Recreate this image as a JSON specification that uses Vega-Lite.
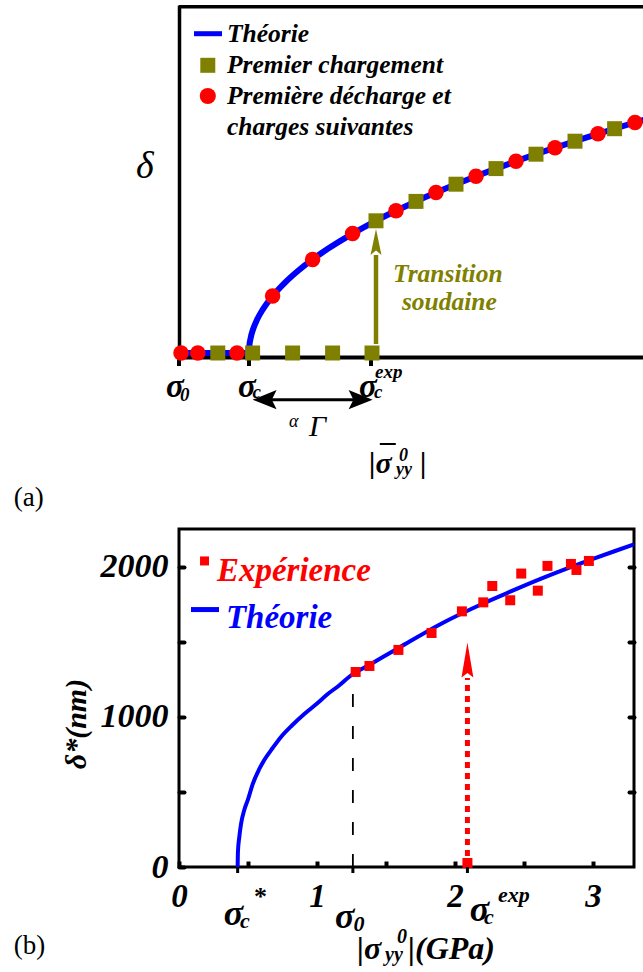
{
  "$schema": "https://vega.github.io/schema/vega-lite/v6.json",
  "autosize": {"type": "pad"},
  "padding": {"left": 12, "top": 5, "right": 0, "bottom": 0},
  "background": "white",
  "config": {"view": {"stroke": null}, "font": "Liberation Serif"},
  "bounds": "flush",
  "spacing": 172,
  "vconcat": [
    {
      "width": 465,
      "height": 352,
      "layer": [
        {
          "data": {"values": [
            {"s": -1.75, "d": 0}, {"s": 0, "d": 0}, {"s": 0.01, "d": 0.74}, {"s": 0.04, "d": 1.48},
            {"s": 0.1, "d": 2.35}, {"s": 0.2, "d": 3.32}, {"s": 0.35, "d": 4.39}, {"s": 0.59, "d": 5.7},
            {"s": 0.9, "d": 7.04}, {"s": 1.25, "d": 8.3}, {"s": 1.59, "d": 9.36}, {"s": 2.0, "d": 10.49},
            {"s": 2.59, "d": 11.94}, {"s": 3.175, "d": 13.22}, {"s": 3.675, "d": 14.22}, {"s": 4.175, "d": 15.16},
            {"s": 4.675, "d": 16.04}, {"s": 5.175, "d": 16.88}, {"s": 5.675, "d": 17.68}, {"s": 6.175, "d": 18.44},
            {"s": 6.675, "d": 19.17}, {"s": 7.175, "d": 19.88}, {"s": 7.65, "d": 20.52}, {"s": 8.15, "d": 21.18},
            {"s": 8.725, "d": 21.92}, {"s": 9.14, "d": 22.43}, {"s": 9.65, "d": 23.05}, {"s": 9.875, "d": 23.32}
          ]},
          "mark": {"type": "line", "color": "#0000ff", "strokeWidth": 6, "interpolate": "monotone"},
          "encoding": {
            "x": {"field": "s", "type": "quantitative", "scale": {"domain": [-1.75, 9.875], "nice": false, "zero": false},
                  "axis": {"title": null, "labels": false, "ticks": false, "grid": false, "domainColor": "black", "domainWidth": 4}},
            "y": {"field": "d", "type": "quantitative", "scale": {"domain": [-0.4, 34.8], "nice": false, "zero": false},
                  "axis": {"title": null, "labels": false, "ticks": false, "grid": false, "domainColor": "black", "domainWidth": 3.5}}
          }
        },
        {
          "data": {"values": [{"s": -1.75, "s2": 9.875, "d": 34.45, "d2": 34.8}]},
          "mark": {"type": "rect", "color": "black", "opacity": 1},
          "encoding": {"x": {"field": "s", "type": "quantitative"}, "x2": {"field": "s2"}, "y": {"field": "d", "type": "quantitative"}, "y2": {"field": "d2"}}
        },
        {
          "data": {"values": [{"s": -1.75}, {"s": 0}, {"s": 3.05}]},
          "mark": {"type": "rule", "color": "black", "strokeWidth": 4},
          "encoding": {"x": {"field": "s", "type": "quantitative"}, "y": {"datum": -0.4}, "y2": {"datum": -1.3}}
        },
        {
          "data": {"values": [{"s": 3.175, "d": 0.9, "d2": 9.8}]},
          "mark": {"type": "rule", "color": "#808000", "strokeWidth": 4.5},
          "encoding": {"x": {"field": "s", "type": "quantitative"}, "y": {"field": "d", "type": "quantitative"}, "y2": {"field": "d2"}}
        },
        {
          "data": {"values": [{"s": 3.175, "d": 11.1}]},
          "mark": {"type": "point", "shape": "M0,-1L0.42,1L0,0.65L-0.42,1Z", "size": 676, "filled": true, "color": "#808000", "opacity": 1},
          "encoding": {"x": {"field": "s", "type": "quantitative"}, "y": {"field": "d", "type": "quantitative"}}
        },
        {
          "data": {"values": [
            {"s": -0.78, "d": 0}, {"s": 0.09, "d": 0}, {"s": 1.09, "d": 0}, {"s": 2.09, "d": 0}, {"s": 3.075, "d": 0},
            {"s": 3.175, "d": 13.22}, {"s": 4.175, "d": 15.16}, {"s": 5.175, "d": 16.88}, {"s": 6.175, "d": 18.44},
            {"s": 7.175, "d": 19.88}, {"s": 8.15, "d": 21.18}, {"s": 9.14, "d": 22.43}
          ]},
          "mark": {"type": "point", "shape": "square", "size": 225, "filled": true, "color": "#808000", "opacity": 1},
          "encoding": {"x": {"field": "s", "type": "quantitative"}, "y": {"field": "d", "type": "quantitative"}}
        },
        {
          "data": {"values": [
            {"s": -1.7, "d": 0}, {"s": -1.28, "d": 0}, {"s": -0.3, "d": 0},
            {"s": 0.59, "d": 5.7}, {"s": 1.59, "d": 9.36}, {"s": 2.59, "d": 11.94}, {"s": 3.675, "d": 14.22},
            {"s": 4.675, "d": 16.04}, {"s": 5.675, "d": 17.68}, {"s": 6.675, "d": 19.17}, {"s": 7.65, "d": 20.52},
            {"s": 8.725, "d": 21.92}, {"s": 9.65, "d": 23.05}
          ]},
          "mark": {"type": "point", "shape": "circle", "size": 240, "filled": true, "color": "#ff0000", "opacity": 1},
          "encoding": {"x": {"field": "s", "type": "quantitative"}, "y": {"field": "d", "type": "quantitative"}}
        },
        {
          "data": {"values": [{"s": -1.375, "s2": -0.675, "d": 31.93}]},
          "mark": {"type": "rule", "color": "#0000ff", "strokeWidth": 5},
          "encoding": {"x": {"field": "s", "type": "quantitative"}, "x2": {"field": "s2"}, "y": {"field": "d", "type": "quantitative"}}
        },
        {
          "data": {"values": [{"s": -1.03, "d": 28.77}]},
          "mark": {"type": "point", "shape": "square", "size": 225, "filled": true, "color": "#808000", "opacity": 1},
          "encoding": {"x": {"field": "s", "type": "quantitative"}, "y": {"field": "d", "type": "quantitative"}}
        },
        {
          "data": {"values": [{"s": -1.03, "d": 25.7}]},
          "mark": {"type": "point", "shape": "circle", "size": 260, "filled": true, "color": "#ff0000", "opacity": 1},
          "encoding": {"x": {"field": "s", "type": "quantitative"}, "y": {"field": "d", "type": "quantitative"}}
        },
        {
          "data": {"values": [
            {"s": -0.55, "d": 31.93, "t": "Théorie"},
            {"s": -0.55, "d": 28.77, "t": "Premier chargement"},
            {"s": -0.55, "d": 25.7, "t": "Première décharge et"},
            {"s": -0.55, "d": 22.6, "t": "charges suivantes"}
          ]},
          "mark": {"type": "text", "align": "left", "baseline": "middle", "font": "Liberation Serif", "fontWeight": "bold", "fontStyle": "italic", "fontSize": 25.5, "color": "black"},
          "encoding": {"x": {"field": "s", "type": "quantitative"}, "y": {"field": "d", "type": "quantitative"}, "text": {"field": "t"}}
        },
        {
          "data": {"values": [
            {"s": 4.97, "d": 7.93, "t": "Transition"},
            {"s": 5.01, "d": 5.1, "t": "soudaine"}
          ]},
          "mark": {"type": "text", "align": "center", "baseline": "middle", "font": "Liberation Serif", "fontWeight": "bold", "fontStyle": "italic", "fontSize": 25.5, "color": "#808000"},
          "encoding": {"x": {"field": "s", "type": "quantitative"}, "y": {"field": "d", "type": "quantitative"}, "text": {"field": "t"}}
        },
        {
          "data": {"values": [
            {"s": -2.075, "d": -3.4, "t": "σ"}, {"s": -0.275, "d": -3.4, "t": "σ"}, {"s": 2.75, "d": -3.4, "t": "σ"}
          ]},
          "mark": {"type": "text", "align": "left", "font": "Liberation Serif", "fontWeight": "bold", "fontStyle": "italic", "fontSize": 33, "color": "black"},
          "encoding": {"x": {"field": "s", "type": "quantitative"}, "y": {"field": "d", "type": "quantitative"}, "text": {"field": "t"}}
        },
        {
          "data": {"values": [
            {"s": -1.725, "d": -4.2, "t": "0"}, {"s": 0.09, "d": -3.9, "t": "c"}, {"s": 3.125, "d": -3.9, "t": "c"}, {"s": 3.15, "d": -1.9, "t": "exp"}
          ]},
          "mark": {"type": "text", "align": "left", "font": "Liberation Serif", "fontWeight": "bold", "fontStyle": "italic", "fontSize": 19, "color": "black"},
          "encoding": {"x": {"field": "s", "type": "quantitative"}, "y": {"field": "d", "type": "quantitative"}, "text": {"field": "t"}}
        },
        {
          "data": {"values": [{"s": 0.39, "s2": 2.79, "d": -4.67}]},
          "mark": {"type": "rule", "color": "black", "strokeWidth": 3},
          "encoding": {"x": {"field": "s", "type": "quantitative"}, "x2": {"field": "s2"}, "y": {"field": "d", "type": "quantitative"}}
        },
        {
          "data": {"values": [{"s": 0.39, "d": -4.67}]},
          "mark": {"type": "point", "shape": "M-1,0L1,-0.8L0.6,0L1,0.8Z", "size": 576, "filled": true, "color": "black", "opacity": 1},
          "encoding": {"x": {"field": "s", "type": "quantitative"}, "y": {"field": "d", "type": "quantitative"}}
        },
        {
          "data": {"values": [{"s": 2.79, "d": -4.67}]},
          "mark": {"type": "point", "shape": "M1,0L-1,-0.8L-0.6,0L-1,0.8Z", "size": 576, "filled": true, "color": "black", "opacity": 1},
          "encoding": {"x": {"field": "s", "type": "quantitative"}, "y": {"field": "d", "type": "quantitative"}}
        },
        {
          "data": {"values": [{"s": 1.0, "d": -6.9, "t": "α"}]},
          "mark": {"type": "text", "align": "left", "font": "Liberation Serif", "fontStyle": "italic", "fontSize": 18, "color": "black"},
          "encoding": {"x": {"field": "s", "type": "quantitative"}, "y": {"field": "d", "type": "quantitative"}, "text": {"field": "t"}}
        },
        {
          "data": {"values": [{"s": 1.5, "d": -7.4, "t": "Γ"}]},
          "mark": {"type": "text", "align": "left", "font": "Liberation Serif", "fontStyle": "italic", "fontSize": 30, "color": "black"},
          "encoding": {"x": {"field": "s", "type": "quantitative"}, "y": {"field": "d", "type": "quantitative"}, "text": {"field": "t"}}
        },
        {
          "data": {"values": [{"s": 3.0, "d": -11.1, "t": "|σ"}, {"s": 4.275, "d": -11.1, "t": "|"}]},
          "mark": {"type": "text", "align": "left", "font": "Liberation Serif", "fontWeight": "bold", "fontStyle": "italic", "fontSize": 30, "color": "black"},
          "encoding": {"x": {"field": "s", "type": "quantitative"}, "y": {"field": "d", "type": "quantitative"}, "text": {"field": "t"}}
        },
        {
          "data": {"values": [{"s": 3.27, "s2": 3.67, "d": -9.1}]},
          "mark": {"type": "rule", "color": "black", "strokeWidth": 2},
          "encoding": {"x": {"field": "s", "type": "quantitative"}, "x2": {"field": "s2"}, "y": {"field": "d", "type": "quantitative"}}
        },
        {
          "data": {"values": [{"s": 3.675, "d": -11.7, "t": "yy"}, {"s": 3.75, "d": -10.3, "t": "0"}]},
          "mark": {"type": "text", "align": "left", "font": "Liberation Serif", "fontWeight": "bold", "fontStyle": "italic", "fontSize": 18, "color": "black"},
          "encoding": {"x": {"field": "s", "type": "quantitative"}, "y": {"field": "d", "type": "quantitative"}, "text": {"field": "t"}}
        },
        {
          "data": {"values": [{"s": -2.825, "d": 18.6, "t": "δ"}]},
          "mark": {"type": "text", "align": "left", "font": "Liberation Serif", "fontStyle": "italic", "fontSize": 38, "color": "black"},
          "encoding": {"x": {"field": "s", "type": "quantitative"}, "y": {"field": "d", "type": "quantitative"}, "text": {"field": "t"}}
        },
        {
          "data": {"values": [{"s": -5.88, "d": -14.5, "t": "(a)"}]},
          "mark": {"type": "text", "align": "left", "font": "Liberation Serif", "fontSize": 27, "color": "black"},
          "encoding": {"x": {"field": "s", "type": "quantitative"}, "y": {"field": "d", "type": "quantitative"}, "text": {"field": "t"}}
        }
      ]
    },
    {
      "width": 455,
      "height": 338,
      "view": {"stroke": "black", "strokeWidth": 3},
      "resolve": {"axis": {"y": "independent"}},
      "layer": [
        {
          "data": {"values": [
            {"s": 0.425, "d": 0}, {"s": 0.427, "d": 100}, {"s": 0.437, "d": 200}, {"s": 0.45, "d": 290},
            {"s": 0.473, "d": 380}, {"s": 0.5, "d": 450}, {"s": 0.534, "d": 553}, {"s": 0.58, "d": 650},
            {"s": 0.618, "d": 713}, {"s": 0.68, "d": 795}, {"s": 0.739, "d": 867}, {"s": 0.82, "d": 945},
            {"s": 0.908, "d": 1020}, {"s": 1.0, "d": 1090}, {"s": 1.078, "d": 1153}, {"s": 1.16, "d": 1210},
            {"s": 1.241, "d": 1273}, {"s": 1.391, "d": 1353}, {"s": 1.6, "d": 1465}, {"s": 1.9, "d": 1622},
            {"s": 2.2, "d": 1755}, {"s": 2.4, "d": 1835}, {"s": 2.62, "d": 1920}, {"s": 2.8, "d": 1985},
            {"s": 2.99, "d": 2050}, {"s": 3.15, "d": 2103}, {"s": 3.297, "d": 2150}
          ]},
          "mark": {"type": "line", "color": "#0000ff", "strokeWidth": 4, "interpolate": "monotone"},
          "encoding": {
            "x": {"field": "s", "type": "quantitative", "scale": {"domain": [0, 3.297], "nice": false, "zero": false},
                  "axis": {"title": null, "values": [0, 0.5, 1, 1.5, 2, 2.5, 3],
                           "labelExpr": "datum.value % 1 === 0 ? '' + datum.value : ''",
                           "grid": false, "domain": false, "tickSize": -6, "tickWidth": 4, "tickColor": "black",
                           "labelFont": "Liberation Serif", "labelFontWeight": "bold", "labelFontStyle": "italic",
                           "labelFontSize": 33, "labelColor": "black", "labelPadding": 19, "labelFlush": false, "labelOverlap": false}},
            "y": {"field": "d", "type": "quantitative", "scale": {"domain": [0, 2253], "nice": false, "zero": false},
                  "axis": {"title": null, "values": [0, 500, 1000, 1500, 2000], "format": "d",
                           "labelExpr": "datum.value % 1000 === 0 ? datum.label : ''",
                           "grid": false, "domain": false, "tickSize": -5, "tickWidth": 4, "tickCap": "round", "tickColor": "black",
                           "labelFont": "Liberation Serif", "labelFontWeight": "bold", "labelFontStyle": "italic",
                           "labelFontSize": 34, "labelColor": "black", "labelPadding": 16, "labelFlush": false, "labelOverlap": false}}
          }
        },
        {
          "data": {"values": [
            {"s": 1.28, "d": 1300}, {"s": 1.38, "d": 1340}, {"s": 1.59, "d": 1447}, {"s": 1.83, "d": 1560},
            {"s": 2.05, "d": 1704}, {"s": 2.205, "d": 1764}, {"s": 2.27, "d": 1873}, {"s": 2.4, "d": 1778},
            {"s": 2.48, "d": 1956}, {"s": 2.6, "d": 1842}, {"s": 2.67, "d": 2007}, {"s": 2.84, "d": 2020},
            {"s": 2.88, "d": 1980}, {"s": 2.97, "d": 2040}
          ]},
          "mark": {"type": "point", "shape": "square", "size": 100, "filled": true, "color": "#ff0000", "opacity": 1},
          "encoding": {
            "x": {"field": "s", "type": "quantitative"},
            "y": {"field": "d", "type": "quantitative",
                  "axis": {"orient": "right", "title": null, "labels": false, "values": [500, 1000, 1500, 2000], "grid": false, "domain": false,
                           "tickSize": -5, "tickWidth": 4, "tickCap": "round", "tickColor": "black"}}
          }
        },
        {
          "data": {"values": [{"s": 1.26, "d": 0, "d2": 1280}]},
          "mark": {"type": "rule", "color": "black", "strokeWidth": 1.8, "strokeDash": [13, 19]},
          "encoding": {"x": {"field": "s", "type": "quantitative"}, "y": {"field": "d", "type": "quantitative", "axis": null}, "y2": {"field": "d2"}}
        },
        {
          "data": {"values": [{"s": 2.09, "d": 0, "d2": 1260}]},
          "mark": {"type": "rule", "color": "#ff0000", "strokeWidth": 5, "strokeDash": [6, 5]},
          "encoding": {"x": {"field": "s", "type": "quantitative"}, "y": {"field": "d", "type": "quantitative", "axis": null}, "y2": {"field": "d2"}}
        },
        {
          "data": {"values": [{"s": 2.09, "d": 1380}]},
          "mark": {"type": "point", "shape": "M0,-1L0.34,1L0,0.75L-0.34,1Z", "size": 1225, "filled": true, "color": "#ff0000", "opacity": 1},
          "encoding": {"x": {"field": "s", "type": "quantitative"}, "y": {"field": "d", "type": "quantitative", "axis": null}}
        },
        {
          "data": {"values": [{"s": 2.09, "d": 27}]},
          "mark": {"type": "point", "shape": "square", "size": 100, "filled": true, "color": "#ff0000", "opacity": 1},
          "encoding": {"x": {"field": "s", "type": "quantitative"}, "y": {"field": "d", "type": "quantitative", "axis": null}}
        },
        {
          "data": {"values": [{"s": 0.425, "d": 0, "d2": -40}, {"s": 1.26, "d": 0, "d2": -40}, {"s": 2.09, "d": 0, "d2": -40}]},
          "mark": {"type": "rule", "color": "black", "strokeWidth": 3},
          "encoding": {"x": {"field": "s", "type": "quantitative"}, "y": {"field": "d", "type": "quantitative", "axis": null}, "y2": {"field": "d2"}}
        },
        {
          "data": {"values": [{"s": 0.185, "d": 2040}]},
          "mark": {"type": "point", "shape": "square", "size": 81, "filled": true, "color": "#ff0000", "opacity": 1},
          "encoding": {"x": {"field": "s", "type": "quantitative"}, "y": {"field": "d", "type": "quantitative", "axis": null}}
        },
        {
          "data": {"values": [{"s": 0.087, "s2": 0.29, "d": 1716}]},
          "mark": {"type": "rule", "color": "#0000ff", "strokeWidth": 5},
          "encoding": {"x": {"field": "s", "type": "quantitative"}, "x2": {"field": "s2"}, "y": {"field": "d", "type": "quantitative", "axis": null}}
        },
        {
          "data": {"values": [{"s": 0.275, "d": 1976, "t": "Expérience"}]},
          "mark": {"type": "text", "align": "left", "font": "Liberation Serif", "fontWeight": "bold", "fontStyle": "italic", "fontSize": 33, "color": "#ff0000"},
          "encoding": {"x": {"field": "s", "type": "quantitative"}, "y": {"field": "d", "type": "quantitative", "axis": null}, "text": {"field": "t"}}
        },
        {
          "data": {"values": [{"s": 0.34, "d": 1662, "t": "Théorie"}]},
          "mark": {"type": "text", "align": "left", "font": "Liberation Serif", "fontWeight": "bold", "fontStyle": "italic", "fontSize": 33, "color": "#0000ff"},
          "encoding": {"x": {"field": "s", "type": "quantitative"}, "y": {"field": "d", "type": "quantitative", "axis": null}, "text": {"field": "t"}}
        },
        {
          "data": {"values": [{"s": -0.74, "d": 953, "t": "δ*(nm)"}]},
          "mark": {"type": "text", "align": "center", "baseline": "middle", "angle": 270, "font": "Liberation Serif", "fontWeight": "bold", "fontStyle": "italic", "fontSize": 30, "color": "black"},
          "encoding": {"x": {"field": "s", "type": "quantitative"}, "y": {"field": "d", "type": "quantitative", "axis": null}, "text": {"field": "t"}}
        },
        {
          "data": {"values": [{"s": 0.324, "d": -313, "t": "σ"}, {"s": 1.13, "d": -333, "t": "σ"}, {"s": 2.106, "d": -287, "t": "σ"}]},
          "mark": {"type": "text", "align": "left", "font": "Liberation Serif", "fontWeight": "bold", "fontStyle": "italic", "fontSize": 36, "color": "black"},
          "encoding": {"x": {"field": "s", "type": "quantitative"}, "y": {"field": "d", "type": "quantitative", "axis": null}, "text": {"field": "t"}}
        },
        {
          "data": {"values": [{"s": 0.442, "d": -360, "t": "c"}, {"s": 1.265, "d": -380, "t": "0"}, {"s": 2.21, "d": -333, "t": "c"}, {"s": 2.312, "d": -187, "t": "exp"}]},
          "mark": {"type": "text", "align": "left", "font": "Liberation Serif", "fontWeight": "bold", "fontStyle": "italic", "fontSize": 22, "color": "black"},
          "encoding": {"x": {"field": "s", "type": "quantitative"}, "y": {"field": "d", "type": "quantitative", "axis": null}, "text": {"field": "t"}}
        },
        {
          "data": {"values": [{"s": 0.543, "d": -200, "t": "*"}]},
          "mark": {"type": "text", "align": "left", "font": "Liberation Serif", "fontWeight": "bold", "fontSize": 26, "color": "black"},
          "encoding": {"x": {"field": "s", "type": "quantitative"}, "y": {"field": "d", "type": "quantitative", "axis": null}, "text": {"field": "t"}}
        },
        {
          "data": {"values": [{"s": 1.29, "d": -547, "t": "|σ"}, {"s": 1.659, "d": -547, "t": "|(GPa)"}]},
          "mark": {"type": "text", "align": "left", "font": "Liberation Serif", "fontWeight": "bold", "fontStyle": "italic", "fontSize": 32, "color": "black"},
          "encoding": {"x": {"field": "s", "type": "quantitative"}, "y": {"field": "d", "type": "quantitative", "axis": null}, "text": {"field": "t"}}
        },
        {
          "data": {"values": [{"s": 1.493, "d": -587, "t": "yy"}, {"s": 1.58, "d": -467, "t": "0"}]},
          "mark": {"type": "text", "align": "left", "font": "Liberation Serif", "fontWeight": "bold", "fontStyle": "italic", "fontSize": 20, "color": "black"},
          "encoding": {"x": {"field": "s", "type": "quantitative"}, "y": {"field": "d", "type": "quantitative", "axis": null}, "text": {"field": "t"}}
        },
        {
          "data": {"values": [{"s": -1.198, "d": -527, "t": "(b)"}]},
          "mark": {"type": "text", "align": "left", "font": "Liberation Serif", "fontSize": 27, "color": "black"},
          "encoding": {"x": {"field": "s", "type": "quantitative"}, "y": {"field": "d", "type": "quantitative", "axis": null}, "text": {"field": "t"}}
        }
      ]
    }
  ]
}
